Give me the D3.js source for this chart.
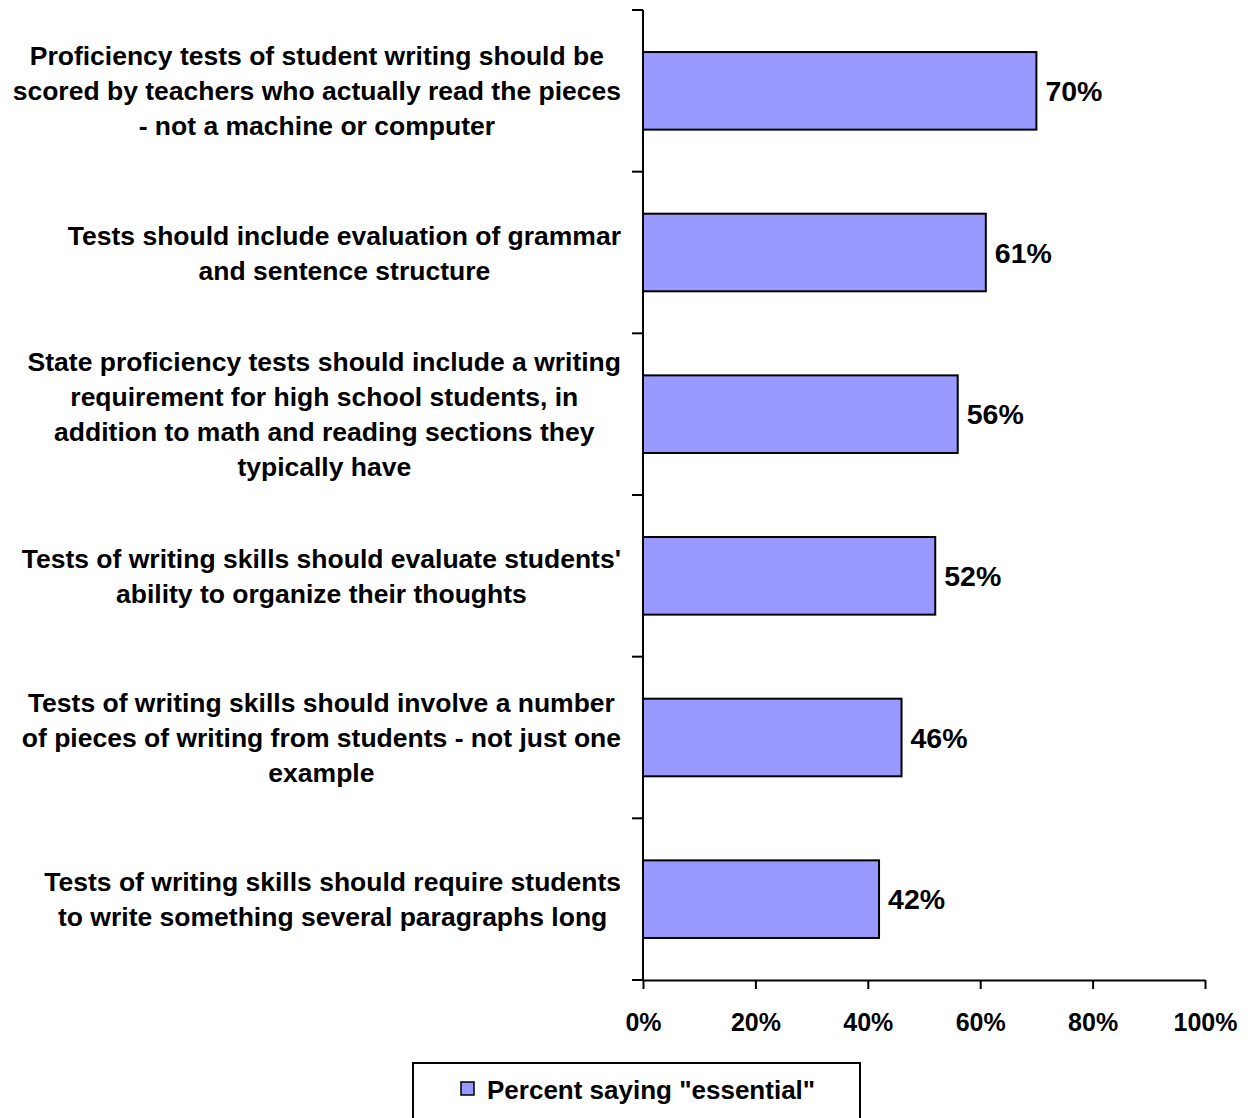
<!DOCTYPE html>
<html><head><meta charset="utf-8">
<script src="https://cdn.jsdelivr.net/npm/d3@7"></script>
<style>body{margin:0;background:#fff;} svg{display:block;font-family:"Liberation Sans",Arial,sans-serif;font-weight:bold;}</style>
</head><body>
<svg id="c" width="1252" height="1118"></svg>
<script>
const categories = [
  ["Proficiency tests of student writing should be","scored by teachers who actually read the pieces","- not a machine or computer"],
  ["Tests should include evaluation of grammar","and sentence structure"],
  ["State proficiency tests should include a writing","requirement for high school students, in","addition to math and reading sections they","typically have"],
  ["Tests of writing skills should evaluate students'","ability to organize their thoughts"],
  ["Tests of writing skills should involve a number","of pieces of writing from students - not just one","example"],
  ["Tests of writing skills should require students","to write something several paragraphs long"]
];
const values = [0.70, 0.61, 0.56, 0.52, 0.46, 0.42];
const xTicks = [0, 0.2, 0.4, 0.6, 0.8, 1.0];
const seriesName = 'Percent saying "essential"';

const svg = d3.select("#c");
const x = d3.scaleLinear().domain([0,1]).range([643,1205]);
const y = d3.scaleBand().domain(d3.range(categories.length)).range([10,980]).paddingInner(0.52).paddingOuter(0.26);

// bars
svg.selectAll("rect.bar").data(values).join("rect")
  .attr("x", x(0)).attr("y", (d,i)=>y(i))
  .attr("width", d=>x(d)-x(0)).attr("height", y.bandwidth())
  .attr("fill","#9999FF").attr("stroke","#000").attr("stroke-width",2);

// value labels
svg.selectAll("text.val").data(values).join("text")
  .attr("x", d=>x(d)+9).attr("y", (d,i)=>y(i)+y.bandwidth()/2)
  .attr("dy","0.36em").attr("font-size",28.5).attr("fill","#000")
  .text(d=>Math.round(d*100)+"%");

// y axis line and ticks at band boundaries
svg.append("line").attr("x1",643).attr("x2",643).attr("y1",y.range()[0]).attr("y2",y.range()[1]).attr("stroke","#000").attr("stroke-width",2);
const bounds = d3.range(categories.length+1).map(i=>y.range()[0]+i*y.step());
svg.selectAll("line.yt").data(bounds).join("line")
  .attr("x1",632).attr("x2",643).attr("y1",d=>d).attr("y2",d=>d).attr("stroke","#000").attr("stroke-width",2);

// x axis
const xa = svg.append("g").attr("transform","translate(0,980)")
  .call(d3.axisBottom(x).tickValues(xTicks).tickSize(9).tickSizeOuter(0).tickFormat(d3.format(".0%")));
xa.attr("font-family",null).attr("font-size",null);
xa.select(".domain").attr("stroke-width",2);
xa.selectAll(".tick line").attr("stroke-width",2);
xa.selectAll(".tick text").attr("font-size",25).attr("font-weight","bold").attr("y",42).attr("dy","0.36em").attr("fill","#000");

// category labels: centered lines, blocks right aligned at 620
const lh = 35;
categories.forEach((lines,i)=>{
  const g = svg.append("g");
  const cy = y(i)+y.bandwidth()/2;
  const t = g.selectAll("text").data(lines).join("text")
    .attr("font-size",26.5).attr("fill","#000")
    .attr("y",(d,j)=>cy+(j-(lines.length-1)/2)*lh).attr("dy","0.36em")
    .attr("text-anchor","middle").text(d=>d);
  let maxW = 0; t.each(function(){maxW=Math.max(maxW,this.getComputedTextLength());});
  t.attr("x", 621 - maxW/2);
});

// legend
svg.append("rect").attr("x",413).attr("y",1063).attr("width",447).attr("height",70).attr("fill","#fff").attr("stroke","#000").attr("stroke-width",2);
svg.append("rect").attr("x",461).attr("y",1082).attr("width",13).attr("height",13).attr("fill","#9999FF").attr("stroke","#000").attr("stroke-width",1.5);
svg.append("text").attr("x",487).attr("y",1099).attr("font-size",26).attr("fill","#000").text(seriesName);
</script>
</body></html>
